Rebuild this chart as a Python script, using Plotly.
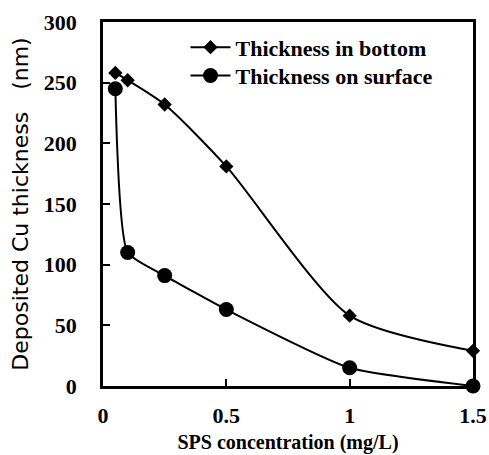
import plotly.graph_objects as go

x_vals = [0.05, 0.1, 0.25, 0.5, 1.0, 1.5]
bottom = [258, 252, 232, 181, 58, 29]
surface = [245, 110, 91, 63, 15, 0]

x_ticks = [0, 0.5, 1, 1.5]
x_tick_text = ["0", "0.5", "1", "1.5"]
y_ticks = [0, 50, 100, 150, 200, 250, 300]

serif = "Liberation Serif, Times New Roman, serif"

fig = go.Figure()
fig.add_trace(go.Scatter(
    x=x_vals, y=bottom, name="Thickness in bottom",
    mode="lines+markers",
    line=dict(color="black", width=2, shape="spline", smoothing=0.7),
    marker=dict(symbol="diamond", size=11, color="black"),
    cliponaxis=False, legend="legend",
))
fig.add_trace(go.Scatter(
    x=x_vals, y=surface, name="Thickness on surface",
    mode="lines+markers",
    line=dict(color="black", width=2, shape="spline", smoothing=0.5),
    marker=dict(symbol="circle", size=15, color="black"),
    cliponaxis=False, legend="legend2",
))

legend_font = dict(family=serif, size=22, color="black", weight="bold")

fig.update_layout(
    width=489, height=455,
    margin=dict(l=103, r=16, t=22, b=69, autoexpand=False),
    paper_bgcolor="white", plot_bgcolor="white",
    showlegend=True,
    legend=dict(
        x=0.223, y=0.988, xanchor="left", yanchor="top",
        bgcolor="rgba(0,0,0,0)", font=legend_font, itemwidth=40,
    ),
    legend2=dict(
        x=0.223, y=0.91, xanchor="left", yanchor="top",
        bgcolor="rgba(0,0,0,0)", font=legend_font, itemwidth=40,
    ),
    xaxis=dict(
        range=[0, 1.5], tickvals=x_ticks, ticktext=x_tick_text,
        showgrid=False, zeroline=False, automargin=False,
        showline=True, linecolor="black", linewidth=2.5, mirror=True,
        ticks="inside", ticklen=7, tickwidth=2, tickcolor="black",
        ticklabelstandoff=8,
        tickfont=dict(family=serif, size=22, color="black", weight="bold"),
        title=dict(text="SPS concentration (mg/L)", standoff=8,
                   font=dict(family=serif, size=20, color="black", weight="bold")),
    ),
    yaxis=dict(
        range=[0, 300], tickvals=y_ticks,
        showgrid=False, zeroline=False, automargin=False,
        showline=True, linecolor="black", linewidth=2.5, mirror=True,
        ticks="inside", ticklen=7, tickwidth=2, tickcolor="black",
        ticklabelstandoff=19,
        tickfont=dict(family=serif, size=22, color="black", weight="bold"),
        title=dict(text="Deposited Cu thickness\u3000(nm)", standoff=10,
                   font=dict(family="DejaVu Sans, sans-serif", size=22, color="black")),
    ),
)

fig.write_html("out.html")
